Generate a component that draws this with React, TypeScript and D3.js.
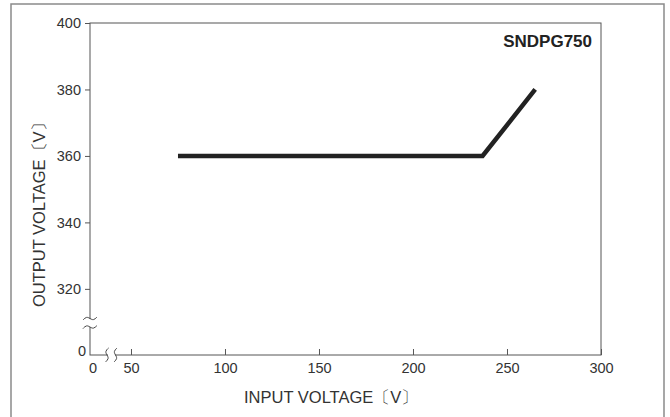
import React, { useRef, useEffect } from 'react';
import * as d3 from 'd3';

// output characteristic (input V, output V)
const inputVolts = [75, 237, 265];
const outputVolts = [360, 360, 380];
const xTicks = [50, 100, 150, 200, 250, 300];
const yTicks = [320, 340, 360, 380, 400];
const modelName = 'SNDPG750';

const W = 670;
const H = 417;

const App = () => {
    const svgRef = useRef<SVGSVGElement>(null);

    useEffect(() => {
        const svg = d3.select(svgRef.current);
        svg.selectAll('*').remove();

        const font = '"Liberation Sans", Arial, Helvetica, sans-serif';
        const left = 90, right = 601, top = 23, bottom = 355;
        const tickFont = 14.5;

        // broken axes: the linear part starts a bit after the origin
        const x = d3.scaleLinear().domain([28.2, 300]).range([left, right]);
        const y = d3.scaleLinear().domain([300.1, 400]).range([bottom, top]);

        // outer frame
        svg.append('rect')
            .attr('x', 11).attr('y', 4)
            .attr('width', 653).attr('height', 430)
            .attr('fill', 'none')
            .attr('stroke', '#8a8a8a')
            .attr('stroke-width', 1.5);

        // plot box
        svg.append('rect')
            .attr('x', left).attr('y', top)
            .attr('width', right - left).attr('height', bottom - top)
            .attr('fill', 'none')
            .attr('stroke', '#555')
            .attr('stroke-width', 1);

        // y ticks (outward)
        const yAxis = svg.append('g')
            .attr('transform', `translate(${left},0)`)
            .call(d3.axisLeft(y).tickValues(yTicks).tickSize(5).tickPadding(4));
        yAxis.select('.domain').remove();
        yAxis.selectAll('line').attr('stroke', '#555');
        yAxis.selectAll('text')
            .attr('font-family', font).attr('font-size', tickFont).attr('fill', '#333');

        // x ticks (inward)
        const xAxis = svg.append('g')
            .attr('transform', `translate(0,${bottom})`)
            .call(d3.axisBottom(x).tickValues(xTicks).tickSizeInner(-6).tickSizeOuter(0).tickPadding(8));
        xAxis.select('.domain').remove();
        xAxis.selectAll('line').attr('stroke', '#555');
        xAxis.selectAll('text')
            .attr('font-family', font).attr('font-size', tickFont).attr('fill', '#333');

        // zero labels at the origin
        svg.append('text')
            .attr('x', left + 3).attr('y', bottom + 18)
            .attr('text-anchor', 'middle')
            .attr('font-family', font).attr('font-size', tickFont).attr('fill', '#333')
            .text('0');
        svg.append('text')
            .attr('x', left - 4).attr('y', bottom + 1)
            .attr('text-anchor', 'end')
            .attr('font-family', font).attr('font-size', tickFont).attr('fill', '#333')
            .text('0');

        // axis breaks
        const wave = d3.line().curve(d3.curveBasis);
        svg.append('rect').attr('x', left - 2).attr('y', 319).attr('width', 4).attr('height', 8).attr('fill', '#fff');
        [318.5, 327].forEach(cy => {
            svg.append('path')
                .attr('d', wave([[left - 7, cy + 1.5], [left - 3.5, cy - 2], [left, cy], [left + 3.5, cy + 2], [left + 7, cy - 1.5]]))
                .attr('fill', 'none').attr('stroke', '#444').attr('stroke-width', 1);
        });
        svg.append('rect').attr('x', 108).attr('y', bottom - 2).attr('width', 7).attr('height', 4).attr('fill', '#fff');
        [107, 115.5].forEach(cx => {
            svg.append('path')
                .attr('d', wave([[cx + 1.5, bottom - 7], [cx - 2, bottom - 3.5], [cx, bottom], [cx + 2, bottom + 3.5], [cx - 1.5, bottom + 7]]))
                .attr('fill', 'none').attr('stroke', '#444').attr('stroke-width', 1);
        });

        // data line
        const pts = inputVolts.map((v, i) => [x(v), y(outputVolts[i])] as [number, number]);
        svg.append('path')
            .attr('d', d3.line()(pts))
            .attr('fill', 'none')
            .attr('stroke', '#222')
            .attr('stroke-width', 4.5)
            .attr('stroke-linejoin', 'miter');

        // model name
        svg.append('text')
            .attr('x', right - 9).attr('y', 47)
            .attr('text-anchor', 'end')
            .attr('font-family', font).attr('font-size', 17).attr('font-weight', 'bold').attr('fill', '#222')
            .text(modelName);

        // axis titles
        svg.append('text')
            .attr('x', 244).attr('y', 403)
            .attr('font-family', font).attr('font-size', 16.5).attr('fill', '#333')
            .text('INPUT VOLTAGE〔V〕');
        svg.append('text')
            .attr('transform', `translate(45,307) rotate(-90)`)
            .attr('font-family', font).attr('font-size', 16.5).attr('fill', '#333')
            .text('OUTPUT VOLTAGE〔V〕');
    }, []);

    return (
        <svg ref={svgRef} width={W} height={H}
            style={{ position: 'absolute', left: 0, top: 0, display: 'block', background: '#fff' }} />
    );
};

export default App;
